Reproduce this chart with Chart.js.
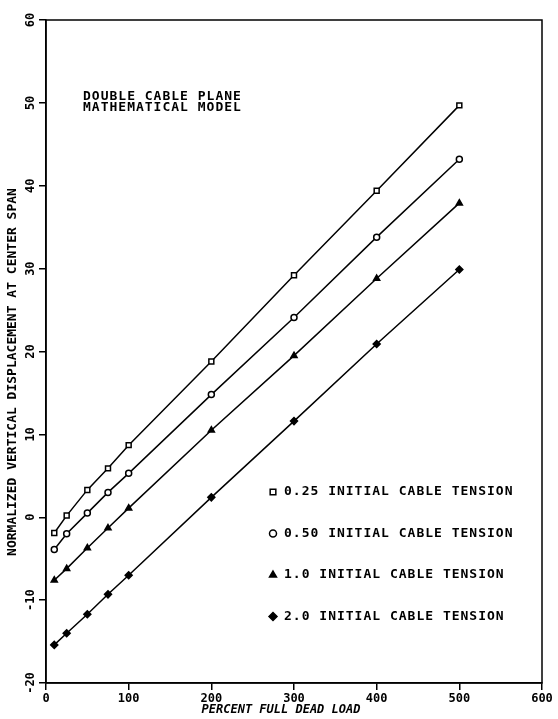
<!DOCTYPE html>
<html>
<head>
<meta charset="utf-8">
<script src="https://cdn.jsdelivr.net/npm/chart.js@4/dist/chart.umd.min.js"></script>
<style>
  html, body { margin: 0; padding: 0; background: #fff; }
  canvas { display: block; }
</style>
</head>
<body>
<canvas id="dispCanvas" width="558" height="719"></canvas>
<script>
var loadPct = [10, 25, 50, 75, 100, 200, 300, 400, 500];
var tension025 = [-1.9, 0.2, 3.3, 5.9, 8.7, 18.8, 29.2, 39.4, 49.7];
var tension050 = [-3.9, -2.0, 0.5, 3.0, 5.3, 14.8, 24.1, 33.8, 43.2];
var tension100 = [-7.6, -6.2, -3.7, -1.3, 1.1, 10.5, 19.5, 28.8, 37.9];
var tension200 = [-15.4, -14.0, -11.7, -9.3, -7.0, 2.4, 11.6, 20.9, 29.9];
var seriesNames = ["0.25 INITIAL CABLE TENSION", "0.50 INITIAL CABLE TENSION", "1.0 INITIAL CABLE TENSION", "2.0 INITIAL CABLE TENSION"];
var noteLines = ["DOUBLE CABLE PLANE", "MATHEMATICAL MODEL"];
var xTitle = "PERCENT FULL DEAD LOAD";
var yTitle = "NORMALIZED VERTICAL DISPLACEMENT AT CENTER SPAN";

var monoFont = "DejaVu Sans Mono";

function toPoints(ys) {
  return ys.map(function (y, i) { return {x: loadPct[i], y: y}; });
}

function makeSet(label, ys, style, fill) {
  return {
    label: label,
    data: toPoints(ys),
    borderColor: "#000",
    borderWidth: 1.5,
    pointStyle: style,
    pointRadius: style === "circle" ? 3 : 3.5,
    pointBorderWidth: 1.5,
    pointBorderColor: "#000",
    pointBackgroundColor: fill,
    tension: 0
  };
}

// frame, rotated y labels, titles, note and in-plot legend
var paperPlugin = {
  id: "paper",
  afterDraw: function (chart) {
    var ctx = chart.ctx;
    var area = chart.chartArea;
    var ys = chart.scales.y;
    ctx.save();
    ctx.strokeStyle = "#000";
    ctx.lineWidth = 1.5;
    ctx.strokeRect(area.left, area.top, area.right - area.left, area.bottom - area.top);

    ctx.fillStyle = "#000";
    ctx.font = "bold 12px '" + monoFont + "'";
    ctx.textAlign = "center";
    ctx.textBaseline = "middle";
    ys.ticks.forEach(function (t) {
      var py = ys.getPixelForValue(t.value);
      ctx.save();
      ctx.translate(31, py);
      ctx.rotate(-Math.PI / 2);
      ctx.fillText(String(t.value), 0, 0);
      ctx.restore();
    });

    ctx.font = "bold 13px '" + monoFont + "'";
    ctx.save();
    ctx.translate(13, 372);
    ctx.rotate(-Math.PI / 2);
    ctx.fillText(yTitle, 0, 0);
    ctx.restore();

    ctx.font = "bold italic 12px '" + monoFont + "'";
    ctx.fillText(xTitle, 281, 710);

    ctx.textAlign = "left";
    ctx.letterSpacing = "1px";
    ctx.font = "bold 13px '" + monoFont + "'";
    noteLines.forEach(function (line, i) {
      ctx.fillText(line, 83, 97 + i * 11);
    });

    chart.data.datasets.forEach(function (ds, i) {
      var ly = 492 + i * 41.5;
      var opts = {
        pointStyle: ds.pointStyle,
        radius: ds.pointRadius + 0.5,
        borderWidth: 1.5,
        rotation: 0
      };
      ctx.strokeStyle = "#000";
      ctx.fillStyle = ds.pointBackgroundColor;
      ctx.lineWidth = 1.5;
      if (Chart.helpers && Chart.helpers.drawPoint) {
        Chart.helpers.drawPoint(ctx, opts, 273, ly);
      }
      ctx.fillStyle = "#000";
      ctx.fillText(ds.label, 284, ly);
    });
    ctx.restore();
  }
};

new Chart("dispCanvas", {
  type: "line",
  data: {
    datasets: [
      makeSet(seriesNames[0], tension025, "rect", "#fff"),
      makeSet(seriesNames[1], tension050, "circle", "#fff"),
      makeSet(seriesNames[2], tension100, "triangle", "#000"),
      makeSet(seriesNames[3], tension200, "rectRot", "#000")
    ]
  },
  options: {
    responsive: false,
    animation: false,
    layout: {padding: {top: 20, right: 16, left: 0, bottom: 0}},
    plugins: {
      legend: {display: false},
      tooltip: {enabled: false}
    },
    scales: {
      x: {
        type: "linear",
        min: 0,
        max: 600,
        ticks: {
          stepSize: 100,
          color: "#000",
          padding: 2,
          maxRotation: 0,
          font: {family: monoFont, size: 12, weight: "bold"}
        },
        grid: {drawOnChartArea: false, drawTicks: true, tickLength: 7, color: "#000", lineWidth: 1.5},
        border: {display: true, color: "#000", width: 1.5},
        afterFit: function (scale) { scale.height = 36; }
      },
      y: {
        type: "linear",
        min: -20,
        max: 60,
        ticks: {stepSize: 10, display: false},
        grid: {drawOnChartArea: false, drawTicks: true, tickLength: 7, color: "#000", lineWidth: 1.5},
        border: {display: true, color: "#000", width: 1.5},
        afterFit: function (scale) { scale.width = 46; }
      }
    }
  },
  plugins: [paperPlugin]
});
</script>
</body>
</html>
